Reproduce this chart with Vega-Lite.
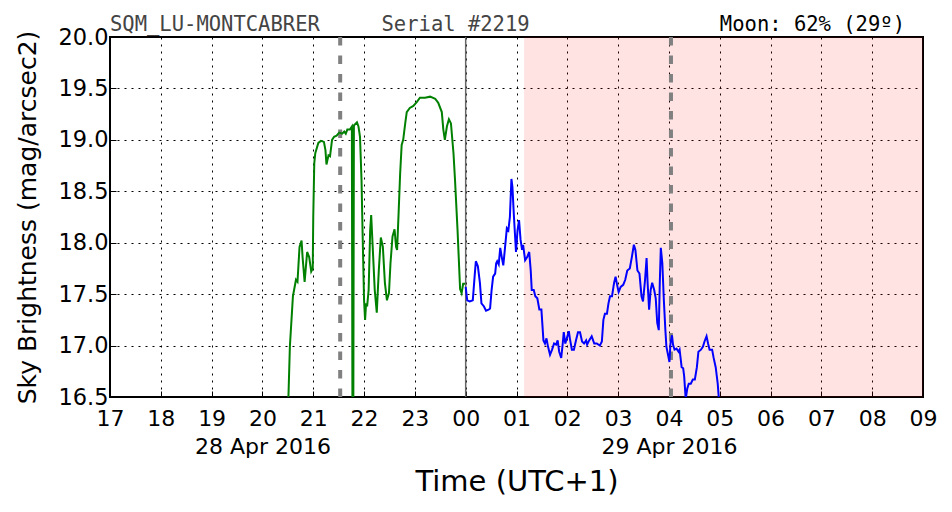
{
  "$schema": "https://vega.github.io/schema/vega-lite/v6.json",
  "width": 813,
  "height": 360,
  "autosize": {"type": "none"},
  "padding": {"left": 110, "top": 37, "right": 29, "bottom": 115},
  "background": "white",
  "config": {
    "view": {"stroke": "#000000", "strokeWidth": 2},
    "font": "DejaVu Sans",
    "axis": {
      "labelFont": "DejaVu Sans",
      "titleFont": "DejaVu Sans",
      "labelColor": "#000000",
      "titleColor": "#000000",
      "titleFontWeight": "normal",
      "domain": false,
      "grid": true,
      "gridColor": "#000000",
      "gridDash": [2, 5],
      "gridWidth": 1,
      "gridOpacity": 1,
      "tickColor": "#000000",
      "tickSize": -6,
      "tickWidth": 1
    }
  },
  "datasets": {
    "sky": [
      {"s": "before", "t": 20.50, "v": 16.3},
      {"s": "before", "t": 20.54, "v": 16.99},
      {"s": "before", "t": 20.60, "v": 17.48},
      {"s": "before", "t": 20.66, "v": 17.64},
      {"s": "before", "t": 20.69, "v": 17.62},
      {"s": "before", "t": 20.73, "v": 17.96},
      {"s": "before", "t": 20.77, "v": 18.02},
      {"s": "before", "t": 20.79, "v": 17.86},
      {"s": "before", "t": 20.83, "v": 17.62},
      {"s": "before", "t": 20.88, "v": 17.91},
      {"s": "before", "t": 20.92, "v": 17.86},
      {"s": "before", "t": 20.96, "v": 17.72},
      {"s": "before", "t": 20.99, "v": 17.75},
      {"s": "before", "t": 21.00, "v": 18.25},
      {"s": "before", "t": 21.02, "v": 18.77},
      {"s": "before", "t": 21.04, "v": 18.87},
      {"s": "before", "t": 21.10, "v": 18.97},
      {"s": "before", "t": 21.15, "v": 18.99},
      {"s": "before", "t": 21.21, "v": 18.98},
      {"s": "before", "t": 21.24, "v": 18.90},
      {"s": "before", "t": 21.26, "v": 18.76},
      {"s": "before", "t": 21.30, "v": 18.85},
      {"s": "before", "t": 21.33, "v": 18.84},
      {"s": "before", "t": 21.37, "v": 19.00},
      {"s": "before", "t": 21.41, "v": 19.03},
      {"s": "before", "t": 21.46, "v": 19.04},
      {"s": "before", "t": 21.51, "v": 19.07},
      {"s": "before", "t": 21.57, "v": 19.06},
      {"s": "before", "t": 21.61, "v": 19.08},
      {"s": "before", "t": 21.64, "v": 19.06},
      {"s": "before", "t": 21.67, "v": 19.10},
      {"s": "before", "t": 21.72, "v": 19.10},
      {"s": "before", "t": 21.76, "v": 19.13},
      {"s": "before", "t": 21.775, "v": 15.5},
      {"s": "before", "t": 21.785, "v": 15.5},
      {"s": "before", "t": 21.80, "v": 19.14},
      {"s": "before", "t": 21.86, "v": 19.17},
      {"s": "before", "t": 21.89, "v": 19.13},
      {"s": "before", "t": 21.92, "v": 19.03},
      {"s": "before", "t": 21.95, "v": 18.61},
      {"s": "before", "t": 21.97, "v": 18.12},
      {"s": "before", "t": 22.00, "v": 17.44},
      {"s": "before", "t": 22.02, "v": 17.25},
      {"s": "before", "t": 22.04, "v": 17.41},
      {"s": "before", "t": 22.06, "v": 17.38},
      {"s": "before", "t": 22.09, "v": 17.54},
      {"s": "before", "t": 22.12, "v": 18.12},
      {"s": "before", "t": 22.14, "v": 18.27},
      {"s": "before", "t": 22.17, "v": 17.96},
      {"s": "before", "t": 22.21, "v": 17.54},
      {"s": "before", "t": 22.25, "v": 17.32},
      {"s": "before", "t": 22.29, "v": 17.73},
      {"s": "before", "t": 22.33, "v": 18.05},
      {"s": "before", "t": 22.37, "v": 17.96},
      {"s": "before", "t": 22.41, "v": 17.61},
      {"s": "before", "t": 22.45, "v": 17.44},
      {"s": "before", "t": 22.49, "v": 17.51},
      {"s": "before", "t": 22.52, "v": 17.80},
      {"s": "before", "t": 22.56, "v": 18.06},
      {"s": "before", "t": 22.60, "v": 18.13},
      {"s": "before", "t": 22.63, "v": 17.96},
      {"s": "before", "t": 22.65, "v": 17.93},
      {"s": "before", "t": 22.68, "v": 18.29},
      {"s": "before", "t": 22.71, "v": 18.67},
      {"s": "before", "t": 22.74, "v": 18.95},
      {"s": "before", "t": 22.77, "v": 19.00},
      {"s": "before", "t": 22.81, "v": 19.16},
      {"s": "before", "t": 22.84, "v": 19.27},
      {"s": "before", "t": 22.90, "v": 19.31},
      {"s": "before", "t": 22.97, "v": 19.33},
      {"s": "before", "t": 23.04, "v": 19.37},
      {"s": "before", "t": 23.10, "v": 19.41},
      {"s": "before", "t": 23.20, "v": 19.41},
      {"s": "before", "t": 23.30, "v": 19.42},
      {"s": "before", "t": 23.40, "v": 19.40},
      {"s": "before", "t": 23.46, "v": 19.36},
      {"s": "before", "t": 23.53, "v": 19.27},
      {"s": "before", "t": 23.56, "v": 19.10},
      {"s": "before", "t": 23.59, "v": 19.00},
      {"s": "before", "t": 23.63, "v": 19.13},
      {"s": "before", "t": 23.67, "v": 19.20},
      {"s": "before", "t": 23.71, "v": 19.16},
      {"s": "before", "t": 23.76, "v": 18.87},
      {"s": "before", "t": 23.79, "v": 18.61},
      {"s": "before", "t": 23.84, "v": 18.12},
      {"s": "before", "t": 23.89, "v": 17.55},
      {"s": "before", "t": 23.92, "v": 17.51},
      {"s": "before", "t": 23.95, "v": 17.60},
      {"s": "before", "t": 23.99, "v": 17.60},
      {"s": "after", "t": 24.00, "v": 17.57},
      {"s": "after", "t": 24.03, "v": 17.44},
      {"s": "after", "t": 24.08, "v": 17.43},
      {"s": "after", "t": 24.14, "v": 17.44},
      {"s": "after", "t": 24.18, "v": 17.70},
      {"s": "after", "t": 24.20, "v": 17.82},
      {"s": "after", "t": 24.24, "v": 17.77},
      {"s": "after", "t": 24.28, "v": 17.61},
      {"s": "after", "t": 24.31, "v": 17.41},
      {"s": "after", "t": 24.36, "v": 17.38},
      {"s": "after", "t": 24.40, "v": 17.34},
      {"s": "after", "t": 24.45, "v": 17.35},
      {"s": "after", "t": 24.48, "v": 17.36},
      {"s": "after", "t": 24.51, "v": 17.54},
      {"s": "after", "t": 24.54, "v": 17.67},
      {"s": "after", "t": 24.58, "v": 17.70},
      {"s": "after", "t": 24.60, "v": 17.80},
      {"s": "after", "t": 24.62, "v": 17.82},
      {"s": "after", "t": 24.65, "v": 17.79},
      {"s": "after", "t": 24.68, "v": 17.95},
      {"s": "after", "t": 24.71, "v": 17.86},
      {"s": "after", "t": 24.74, "v": 17.78},
      {"s": "after", "t": 24.77, "v": 17.93},
      {"s": "after", "t": 24.81, "v": 18.14},
      {"s": "after", "t": 24.84, "v": 18.12},
      {"s": "after", "t": 24.87, "v": 18.25},
      {"s": "after", "t": 24.90, "v": 18.62},
      {"s": "after", "t": 24.92, "v": 18.54},
      {"s": "after", "t": 24.95, "v": 18.25},
      {"s": "after", "t": 24.99, "v": 17.91},
      {"s": "after", "t": 25.02, "v": 18.12},
      {"s": "after", "t": 25.05, "v": 18.22},
      {"s": "after", "t": 25.08, "v": 18.03},
      {"s": "after", "t": 25.11, "v": 17.93},
      {"s": "after", "t": 25.13, "v": 17.98},
      {"s": "after", "t": 25.17, "v": 17.83},
      {"s": "after", "t": 25.21, "v": 17.86},
      {"s": "after", "t": 25.25, "v": 17.91},
      {"s": "after", "t": 25.28, "v": 17.73},
      {"s": "after", "t": 25.30, "v": 17.54},
      {"s": "after", "t": 25.34, "v": 17.54},
      {"s": "after", "t": 25.37, "v": 17.48},
      {"s": "after", "t": 25.41, "v": 17.46},
      {"s": "after", "t": 25.45, "v": 17.35},
      {"s": "after", "t": 25.49, "v": 17.35},
      {"s": "after", "t": 25.53, "v": 17.05},
      {"s": "after", "t": 25.56, "v": 17.02},
      {"s": "after", "t": 25.59, "v": 17.07},
      {"s": "after", "t": 25.62, "v": 16.99},
      {"s": "after", "t": 25.66, "v": 16.91},
      {"s": "after", "t": 25.70, "v": 16.96},
      {"s": "after", "t": 25.74, "v": 17.02},
      {"s": "after", "t": 25.78, "v": 17.01},
      {"s": "after", "t": 25.81, "v": 17.05},
      {"s": "after", "t": 25.84, "v": 16.94},
      {"s": "after", "t": 25.88, "v": 16.88},
      {"s": "after", "t": 25.91, "v": 17.02},
      {"s": "after", "t": 25.93, "v": 17.13},
      {"s": "after", "t": 25.96, "v": 17.02},
      {"s": "after", "t": 25.99, "v": 17.07},
      {"s": "after", "t": 26.03, "v": 17.14},
      {"s": "after", "t": 26.05, "v": 17.07},
      {"s": "after", "t": 26.09, "v": 16.96},
      {"s": "after", "t": 26.13, "v": 16.96},
      {"s": "after", "t": 26.17, "v": 17.05},
      {"s": "after", "t": 26.21, "v": 17.13},
      {"s": "after", "t": 26.25, "v": 17.13},
      {"s": "after", "t": 26.29, "v": 17.04},
      {"s": "after", "t": 26.33, "v": 17.02},
      {"s": "after", "t": 26.37, "v": 17.05},
      {"s": "after", "t": 26.39, "v": 17.01},
      {"s": "after", "t": 26.43, "v": 17.05},
      {"s": "after", "t": 26.48, "v": 17.09},
      {"s": "after", "t": 26.53, "v": 17.02},
      {"s": "after", "t": 26.58, "v": 17.02},
      {"s": "after", "t": 26.64, "v": 17.00},
      {"s": "after", "t": 26.68, "v": 17.04},
      {"s": "after", "t": 26.71, "v": 17.25},
      {"s": "after", "t": 26.74, "v": 17.31},
      {"s": "after", "t": 26.78, "v": 17.31},
      {"s": "after", "t": 26.81, "v": 17.41},
      {"s": "after", "t": 26.84, "v": 17.48},
      {"s": "after", "t": 26.88, "v": 17.48},
      {"s": "after", "t": 26.92, "v": 17.61},
      {"s": "after", "t": 26.95, "v": 17.67},
      {"s": "after", "t": 26.98, "v": 17.59},
      {"s": "after", "t": 27.01, "v": 17.52},
      {"s": "after", "t": 27.05, "v": 17.57},
      {"s": "after", "t": 27.10, "v": 17.59},
      {"s": "after", "t": 27.14, "v": 17.64},
      {"s": "after", "t": 27.18, "v": 17.73},
      {"s": "after", "t": 27.23, "v": 17.75},
      {"s": "after", "t": 27.27, "v": 17.86},
      {"s": "after", "t": 27.31, "v": 17.98},
      {"s": "after", "t": 27.34, "v": 17.93},
      {"s": "after", "t": 27.38, "v": 17.73},
      {"s": "after", "t": 27.42, "v": 17.70},
      {"s": "after", "t": 27.46, "v": 17.48},
      {"s": "after", "t": 27.49, "v": 17.43},
      {"s": "after", "t": 27.53, "v": 17.64},
      {"s": "after", "t": 27.56, "v": 17.85},
      {"s": "after", "t": 27.58, "v": 17.61},
      {"s": "after", "t": 27.61, "v": 17.35},
      {"s": "after", "t": 27.64, "v": 17.54},
      {"s": "after", "t": 27.67, "v": 17.61},
      {"s": "after", "t": 27.71, "v": 17.54},
      {"s": "after", "t": 27.74, "v": 17.46},
      {"s": "after", "t": 27.77, "v": 17.22},
      {"s": "after", "t": 27.80, "v": 17.15},
      {"s": "after", "t": 27.82, "v": 17.61},
      {"s": "after", "t": 27.84, "v": 17.95},
      {"s": "after", "t": 27.87, "v": 17.80},
      {"s": "after", "t": 27.90, "v": 17.44},
      {"s": "after", "t": 27.93, "v": 17.15},
      {"s": "after", "t": 27.95, "v": 16.99},
      {"s": "after", "t": 27.99, "v": 16.89},
      {"s": "after", "t": 28.01, "v": 16.84},
      {"s": "after", "t": 28.03, "v": 17.02},
      {"s": "after", "t": 28.06, "v": 17.10},
      {"s": "after", "t": 28.08, "v": 17.01},
      {"s": "after", "t": 28.11, "v": 16.96},
      {"s": "after", "t": 28.15, "v": 16.97},
      {"s": "after", "t": 28.19, "v": 16.94},
      {"s": "after", "t": 28.21, "v": 16.96},
      {"s": "after", "t": 28.25, "v": 16.79},
      {"s": "after", "t": 28.28, "v": 16.78},
      {"s": "after", "t": 28.30, "v": 16.70},
      {"s": "after", "t": 28.33, "v": 16.48},
      {"s": "after", "t": 28.36, "v": 16.58},
      {"s": "after", "t": 28.39, "v": 16.63},
      {"s": "after", "t": 28.43, "v": 16.63},
      {"s": "after", "t": 28.47, "v": 16.67},
      {"s": "after", "t": 28.51, "v": 16.67},
      {"s": "after", "t": 28.55, "v": 16.79},
      {"s": "after", "t": 28.58, "v": 16.94},
      {"s": "after", "t": 28.63, "v": 16.96},
      {"s": "after", "t": 28.67, "v": 16.99},
      {"s": "after", "t": 28.70, "v": 17.04},
      {"s": "after", "t": 28.74, "v": 17.09},
      {"s": "after", "t": 28.77, "v": 17.02},
      {"s": "after", "t": 28.80, "v": 16.96},
      {"s": "after", "t": 28.85, "v": 16.96},
      {"s": "after", "t": 28.88, "v": 16.88},
      {"s": "after", "t": 28.92, "v": 16.79},
      {"s": "after", "t": 28.96, "v": 16.63},
      {"s": "after", "t": 28.98, "v": 16.50},
      {"s": "after", "t": 29.01, "v": 16.3}
    ]
  },
  "layer": [
    {
      "data": {"values": [{"start": 25.15, "end": 33}]},
      "mark": {"type": "rect", "color": "#ff0000", "opacity": 0.11},
      "encoding": {
        "x": {
          "field": "start", "type": "quantitative",
          "scale": {"domain": [17, 33], "nice": false, "zero": false},
          "axis": {
            "values": [17, 18, 19, 20, 21, 22, 23, 24, 25, 26, 27, 28, 29, 30, 31, 32, 33],
            "labelExpr": "datum.value == 20 ? ['20', '28 Apr 2016'] : datum.value == 28 ? ['04', '29 Apr 2016'] : ((datum.value % 24) < 10 ? '0' : '') + (datum.value % 24)",
            "labelFontSize": 22,
            "labelLineHeight": 28,
            "labelPadding": 17,
            "labelFlush": false,
            "labelOverlap": false,
            "title": "Time (UTC+1)",
            "titleFontSize": 29,
            "titlePadding": 10
          }
        },
        "x2": {"field": "end"},
        "y": {
          "datum": 16.5, "type": "quantitative",
          "scale": {"domain": [16.5, 20.0], "nice": false, "zero": false},
          "axis": {
            "values": [16.5, 17.0, 17.5, 18.0, 18.5, 19.0, 19.5, 20.0],
            "format": ".1f",
            "labelFontSize": 22.5,
            "labelPadding": 8,
            "labelFlush": false,
            "labelOverlap": false,
            "title": "Sky Brightness (mag/arcsec2)",
            "titleFontSize": 25,
            "titlePadding": 17
          }
        },
        "y2": {"datum": 20.0}
      }
    },
    {
      "data": {"values": [{"t": 21.53}, {"t": 28.04}]},
      "mark": {"type": "rule", "color": "#808080", "strokeWidth": 4, "strokeDash": [8.5, 10]},
      "encoding": {"x": {"field": "t", "type": "quantitative"}}
    },
    {
      "data": {"values": [{"t": 24.0}]},
      "mark": {"type": "rule", "color": "#666666", "strokeWidth": 1.5},
      "encoding": {"x": {"field": "t", "type": "quantitative"}}
    },
    {
      "data": {"name": "sky"},
      "mark": {"type": "line", "strokeWidth": 2, "clip": true},
      "encoding": {
        "x": {"field": "t", "type": "quantitative"},
        "y": {"field": "v", "type": "quantitative"},
        "color": {
          "field": "s", "type": "nominal",
          "scale": {"domain": ["before", "after"], "range": ["#008000", "#0000ff"]},
          "legend": null
        }
      }
    },
    {
      "data": {"values": [{"t": 17, "v": 20.0, "label": "SQM_LU-MONTCABRER\u00a0\u00a0\u00a0\u00a0\u00a0Serial #2219"}]},
      "mark": {"type": "text", "font": "DejaVu Sans Mono", "fontSize": 20.5, "color": "#444444", "align": "left", "baseline": "alphabetic", "dy": -6},
      "encoding": {
        "x": {"field": "t", "type": "quantitative"},
        "y": {"field": "v", "type": "quantitative"},
        "text": {"field": "label"}
      }
    },
    {
      "data": {"values": [{"t": 33, "v": 20.0, "label": "Moon: 62% (29º)"}]},
      "mark": {"type": "text", "font": "DejaVu Sans Mono", "fontSize": 20.5, "color": "#000000", "align": "right", "baseline": "alphabetic", "dy": -6, "dx": -18},
      "encoding": {
        "x": {"field": "t", "type": "quantitative"},
        "y": {"field": "v", "type": "quantitative"},
        "text": {"field": "label"}
      }
    }
  ]
}
